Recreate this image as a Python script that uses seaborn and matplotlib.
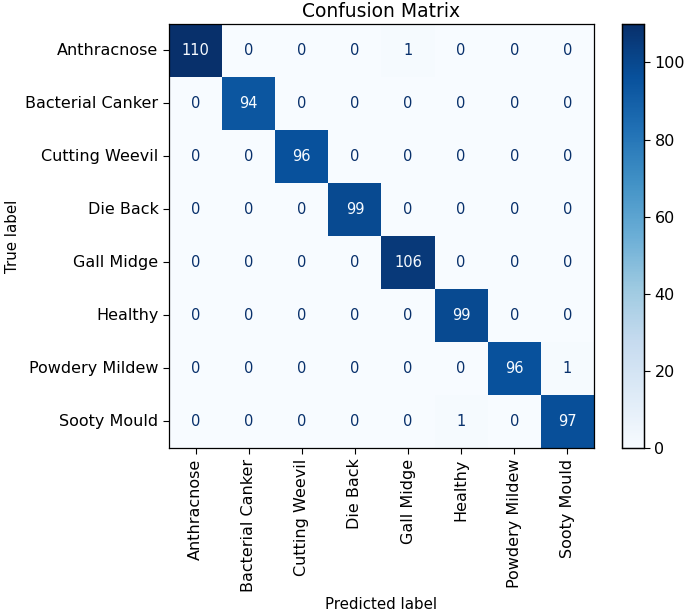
import numpy as np
import pandas as pd
import matplotlib
matplotlib.use("Agg")
import matplotlib.pyplot as plt
import seaborn as sns

classes = ["Anthracnose", "Bacterial Canker", "Cutting Weevil", "Die Back",
           "Gall Midge", "Healthy", "Powdery Mildew", "Sooty Mould"]
row_anthracnose = [110, 0, 0, 0, 1, 0, 0, 0]
row_bacterial = [0, 94, 0, 0, 0, 0, 0, 0]
row_weevil = [0, 0, 96, 0, 0, 0, 0, 0]
row_dieback = [0, 0, 0, 99, 0, 0, 0, 0]
row_gallmidge = [0, 0, 0, 0, 106, 0, 0, 0]
row_healthy = [0, 0, 0, 0, 0, 99, 0, 0]
row_powdery = [0, 0, 0, 0, 0, 0, 96, 1]
row_sooty = [0, 0, 0, 0, 0, 1, 0, 97]

cm = pd.DataFrame([row_anthracnose, row_bacterial, row_weevil, row_dieback,
                   row_gallmidge, row_healthy, row_powdery, row_sooty],
                  index=classes, columns=classes)

fig = plt.figure(figsize=(6.85, 6.14), dpi=100)
ax = fig.add_axes([0.2467, 0.2704, 0.6204, 0.6906])
cax = fig.add_axes([0.908, 0.2704, 0.0321, 0.6906])

cmap = plt.get_cmap("Blues")
sns.heatmap(cm, cmap=cmap, vmin=0, vmax=cm.values.max(), annot=True, fmt="d",
            ax=ax, cbar_ax=cax, annot_kws={"fontsize": 10.5})

# text colour like sklearn: dark on light cells, light on dark cells
thresh = cm.values.max() / 2.0
for t in ax.texts:
    v = int(t.get_text())
    t.set_color(cmap(0.0) if v >= thresh else cmap(1.0))

for s in ax.spines.values():
    s.set_visible(True)
    s.set_linewidth(0.9)
cax.set_frame_on(True)
for s in cax.spines.values():
    s.set_visible(True)
    s.set_linewidth(0.9)

ax.set_xticklabels(classes, rotation=90, fontsize=11.5)
ax.set_yticklabels(classes, rotation=0, fontsize=11.5)
ax.tick_params(length=4)
cax.set_yticks([0, 20, 40, 60, 80, 100])
cax.tick_params(length=4, labelsize=11.5)
ax.set_xlabel("Predicted label", fontsize=10.8)
ax.set_ylabel("True label", fontsize=10.8)
ax.set_title("Confusion Matrix", fontsize=13.5, pad=5)

plt.savefig("out.png", dpi=100)
